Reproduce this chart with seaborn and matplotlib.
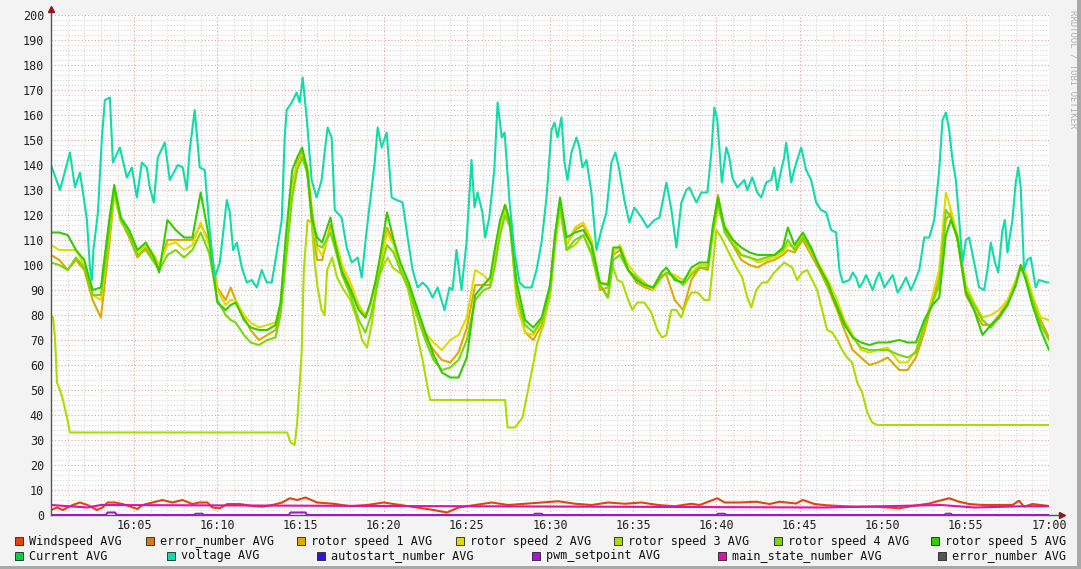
import numpy as np
import pandas as pd
import matplotlib
matplotlib.use("Agg")
import matplotlib.pyplot as plt
import seaborn as sns
from matplotlib.patches import Rectangle
from matplotlib.ticker import MultipleLocator, FixedLocator, FixedFormatter

sns.set_style("white")
plt.rcParams['font.family'] = ['DejaVu Sans Mono', 'DejaVu Sans']

# ---- data (minutes after 16:00) ----
volt_t = [0, 0.54, 1.14, 1.44, 1.74, 1.9, 2.16, 2.34, 2.46, 2.55, 2.82, 3.06, 3.24, 3.54, 3.72,
          4.14, 4.56, 4.86, 5.16, 5.46, 5.76, 5.94, 6.18, 6.42, 6.84, 7.14, 7.62, 7.92, 8.16, 8.34,
          8.64, 8.94, 9.24, 9.54, 9.84, 10.15, 10.57, 10.75, 10.95, 11.17, 11.47, 11.77, 12.07,
          12.37, 12.67, 12.97, 13.27, 13.57, 13.87, 14.05, 14.17, 14.47, 14.77, 14.95, 15.13, 15.37,
          15.67, 15.97, 16.27, 16.45, 16.63, 16.87, 17.06, 17.47, 17.78, 18.08, 18.44, 18.68, 18.98,
          19.28, 19.46, 19.64, 19.88, 20.18, 20.48, 20.78, 21.14, 21.44, 21.74, 22.04, 22.34, 22.64,
          22.94, 23.24, 23.66, 23.96, 24.14, 24.38, 24.68, 24.98, 25.28, 25.46, 25.64, 25.94, 26.1,
          26.35, 26.65, 26.85, 27.1, 27.27, 27.57, 27.87, 28.17, 28.47, 28.89, 29.19, 29.49, 29.79,
          30.09, 30.27, 30.45, 30.69, 30.87, 31.05, 31.29, 31.59, 31.77, 31.95, 32.19, 32.49, 32.79,
          33.09, 33.39, 33.69, 33.93, 34.17, 34.47, 34.77, 35.07, 35.5, 35.86, 36.28, 36.58, 37.0,
          37.3, 37.6, 37.9, 38.2, 38.38, 38.8, 39.1, 39.46, 39.7, 39.88, 40.06, 40.33, 40.6, 40.78,
          40.96, 41.26, 41.68, 41.86, 42.16, 42.46, 42.7, 43.0, 43.3, 43.48, 43.66, 43.9, 44.08,
          44.2, 44.5, 44.68, 44.86, 45.1, 45.4, 45.7, 46.0, 46.3, 46.6, 46.9, 47.2, 47.4, 47.6, 48.0,
          48.2, 48.4, 48.6, 48.8, 49.0, 49.2, 49.4, 49.6, 49.8, 50.1, 50.3, 50.6, 50.9, 51.1, 51.4,
          51.7, 51.9, 52.2, 52.5, 52.8, 53.1, 53.4, 53.6, 53.8, 54.0, 54.2, 54.4, 54.6, 54.8, 55.0,
          55.2, 55.5, 55.8, 56.1, 56.3, 56.5, 56.75, 56.95, 57.2, 57.35, 57.5, 57.8, 58.0, 58.15,
          58.3, 58.5, 58.7, 58.9, 59.2, 59.4, 59.9, 60]
volt_v = [140, 130, 145, 131, 137, 130, 118, 99, 94, 106, 121, 151, 166, 167, 141,
          147, 135, 139, 127, 141, 139, 131, 125, 143, 149, 134, 140, 139, 130, 146,
          162, 139, 138, 114, 95, 101, 126, 121, 106, 109, 99, 93, 94,
          91, 98, 93, 93, 105, 118, 151, 162, 165, 169, 165, 175, 159,
          134, 127, 134, 145, 155, 151, 122, 119, 107, 101, 103, 95, 114,
          131, 141, 155, 147, 153, 127, 126, 125, 111, 98, 91, 93, 91,
          87, 91, 82, 91, 90, 106, 90, 109, 142, 123, 129, 121, 111,
          119, 138, 165, 151, 153, 125, 105, 93, 91, 91, 98, 109, 127,
          154, 157, 151, 159, 141, 134, 145, 151, 147, 139, 142, 129, 106,
          114, 121, 141, 145, 138, 126, 117, 123, 119, 115, 118, 119, 133,
          122, 107, 125, 130, 131, 125, 129, 129, 145, 163, 158, 133, 147, 143,
          135, 131, 134, 130, 135, 129, 127, 133, 134, 139, 130, 138, 143,
          149, 133, 138, 142, 147, 138, 134, 125, 122, 121, 114, 113, 98, 93, 94,
          97, 95, 91, 93, 96, 93, 90, 94, 97, 91, 93, 96, 89, 91, 95,
          90, 93, 98, 111, 111, 118, 138, 158, 161, 154, 142, 134, 118, 101, 110,
          111, 101, 91, 90, 98, 109, 101, 97, 114, 118, 105, 118, 133, 139,
          131, 98, 102, 103, 91, 94, 93, 93]

grp_t = [0, 0.5, 1, 1.5, 2, 2.5, 3, 3.5, 3.8, 4.2, 4.7, 5.2, 5.7, 6.2, 6.5, 7, 7.5, 8, 8.5, 9,
         9.5, 10, 10.5, 10.8, 11.1, 11.6, 12, 12.5, 13, 13.5, 13.8, 14.1, 14.5, 14.8, 15.1, 15.4,
         15.7, 16, 16.3, 16.8, 17.1, 17.5, 18, 18.5, 18.9, 19.2, 19.5, 19.8, 20.2, 20.6, 21, 21.5,
         22, 22.5, 23, 23.5, 24, 24.5, 25, 25.5, 26, 26.4, 26.7, 27, 27.3, 27.6, 28, 28.5, 29,
         29.5, 30, 30.3, 30.6, 31, 31.5, 32, 32.5, 33, 33.5, 33.8, 34.2, 34.7, 35.2, 35.7, 36.2,
         36.7, 37, 37.5, 38, 38.5, 39, 39.5, 39.8, 40.1, 40.5, 41, 41.5, 42, 42.5, 43, 43.5, 44,
         44.3, 44.7, 45.2, 45.7, 46.2, 46.7, 47.2, 47.7, 48.2, 48.7, 49.2, 49.7, 50.3, 51, 51.5,
         52, 52.5, 53, 53.4, 53.8, 54.1, 54.5, 55, 55.5, 56, 56.5, 57, 57.5, 58, 58.3, 58.6, 59,
         59.5, 60]
rotor5 = [113, 113, 112, 106, 102, 90, 91, 118, 132, 119, 114, 106, 109, 103, 97, 118, 114, 111, 111, 129,
          111, 85, 82, 84, 85, 78, 75, 74, 74, 76, 85, 110, 138, 143, 147, 138,
          118, 111, 109, 119, 108, 97, 90, 82, 79, 85, 93, 104, 121, 110, 101, 93,
          83, 73, 64, 57, 55, 55, 63, 88, 92, 95, 107, 118, 124, 117, 93, 78, 75,
          79, 92, 112, 127, 111, 113, 114, 108, 93, 92, 107, 107, 98, 94, 92, 91,
          97, 99, 94, 93, 99, 101, 101, 116, 127, 115, 110, 107, 105, 104, 104, 104, 107,
          115, 108, 113, 107, 99, 93, 84, 76, 71, 69, 68, 69, 69, 70, 69,
          69, 78, 84, 87, 112, 118, 111, 89, 82, 72, 76, 79, 84, 92, 100, 94, 84,
          74, 66]
rotor2 = [108, 106, 106, 106, 100, 88, 86, 112, 128, 117, 113, 105, 108, 104, 100, 108, 109, 106, 108, 117,
          108, 90, 84, 86, 86, 80, 77, 75, 76, 77, 84, 106, 130, 140, 144, 140,
          122, 107, 104, 114, 110, 100, 93, 84, 80, 84, 92, 100, 113, 108, 100, 93,
          82, 73, 69, 66, 70, 72, 79, 98, 96, 93, 104, 115, 122, 117, 84, 73, 72,
          78, 90, 110, 124, 108, 115, 117, 110, 92, 93, 105, 108, 100, 96, 93, 90,
          95, 97, 96, 94, 97, 100, 100, 112, 122, 116, 110, 104, 103, 101, 102, 103, 105,
          108, 107, 112, 105, 100, 94, 87, 78, 72, 66, 65, 66, 67, 61, 61,
          66, 75, 88, 98, 129, 122, 112, 92, 85, 79, 80, 82, 86, 94, 100, 97, 88,
          79, 78]
rotor1 = [104, 102, 98, 102, 98, 86, 79, 108, 128, 118, 111, 103, 107, 102, 99, 110, 110, 110, 110, 116,
          110, 91, 86, 91, 86, 79, 74, 70, 72, 74, 82, 104, 132, 141, 145, 138,
          115, 102, 102, 116, 109, 98, 91, 84, 79, 84, 93, 102, 115, 109, 98, 90,
          80, 71, 66, 62, 61, 65, 75, 92, 92, 92, 104, 116, 124, 117, 89, 73, 70,
          76, 88, 108, 125, 108, 114, 116, 108, 90, 91, 104, 106, 98, 93, 91, 90,
          96, 96, 86, 82, 94, 99, 98, 115, 128, 114, 108, 102, 100, 99, 101, 102, 104,
          106, 105, 110, 104, 98, 91, 83, 74, 66, 63, 60, 61, 63, 58, 58,
          63, 73, 86, 95, 118, 121, 110, 88, 82, 76, 76, 80, 85, 93, 99, 95, 86,
          78, 71]
rotor4 = [101, 100, 98, 103, 99, 88, 88, 114, 130, 118, 112, 104, 106, 101, 98, 104, 106, 103, 106, 113,
          105, 86, 80, 78, 77, 72, 69, 68, 70, 71, 80, 100, 127, 138, 143, 137,
          120, 108, 107, 113, 106, 96, 88, 78, 73, 79, 88, 98, 108, 105, 98, 91,
          80, 70, 62, 58, 59, 62, 70, 86, 90, 91, 100, 112, 120, 115, 88, 76, 73,
          78, 90, 112, 126, 106, 110, 112, 105, 92, 87, 102, 104, 98, 95, 92, 91,
          95, 97, 95, 92, 96, 99, 99, 114, 125, 113, 108, 104, 103, 102, 103, 104, 106,
          110, 106, 111, 106, 99, 92, 85, 77, 71, 67, 66, 66, 66, 64, 63,
          65, 76, 85, 92, 122, 119, 110, 90, 84, 78, 75, 79, 84, 92, 99, 95, 86,
          76, 70]

rotor3_t = [0, 0.12, 0.24, 0.36, 0.54, 0.72, 0.96, 1.14, 14.2, 14.4, 14.65, 14.8, 15.07, 15.2,
            15.43, 15.67, 15.85, 16.03, 16.27, 16.45, 16.6, 16.9, 17.2, 17.6, 18.0, 18.4, 18.7,
            19.0, 19.3, 19.6, 20.0, 20.24, 20.54, 21.14, 21.44, 21.74, 22.04, 22.34, 22.64, 22.8,
            27.3, 27.45, 27.9, 28.35, 28.65, 28.95, 29.24, 29.6, 30.0, 30.3, 30.6, 31.0, 31.5,
            32.0, 32.5, 32.85, 33.45, 33.75, 34.05, 34.35, 34.65, 34.95, 35.25, 35.67, 36.09,
            36.45, 36.75, 37.0, 37.29, 37.59, 37.89, 38.2, 38.5, 38.86, 39.28, 39.58, 40.0, 40.3,
            40.9, 41.2, 41.56, 41.86, 42.1, 42.4, 42.76, 43.06, 43.48, 43.78, 44.08, 44.56, 44.86,
            45.16, 45.46, 45.76, 46.06, 46.36, 46.66, 46.96, 47.26, 47.56, 47.86, 48.16, 48.47,
            48.77, 49.07, 49.37, 49.67, 60]
rotor3_v = [80, 79, 71, 53, 50, 46, 39, 33, 33, 29, 28, 37, 65, 98,
            118, 117, 101, 91, 82, 80, 98, 103, 95, 90, 86, 78, 70,
            67, 77, 93, 100, 103, 99, 96, 91, 82, 71, 62, 51, 46,
            46, 35, 35, 39, 49, 59, 69, 76, 88, 108, 122, 106, 108,
            112, 104, 94, 87, 100, 94, 93, 87, 82, 85, 85, 81,
            74, 71, 72, 82, 82, 79, 85, 89, 89, 86, 86, 114, 111,
            103, 99, 95, 87, 83, 90, 93, 93, 97, 99, 101, 99, 94,
            97, 98, 94, 90, 82, 74, 73, 70, 66, 63, 61, 53,
            49, 41, 37, 36, 36]

wind_t = [0, 0.36, 0.72, 1.3, 1.74, 2.2, 2.76, 3.1, 3.4, 3.85, 4.3, 5.2, 5.5, 6.1, 6.7, 7.3, 7.9,
          8.5, 8.9, 9.4, 9.7, 10.15, 10.6, 11.35, 12.1, 12.7, 13.3, 13.9, 14.35, 14.8, 15.3, 16,
          17, 18, 19, 20, 21, 22, 23, 23.8, 24.5, 25.5, 26.5, 27.5, 28.5, 29.5, 30.5, 31.5, 32.5,
          33.5, 34.5, 35.5, 36.5, 37.5, 38.5, 39.0, 40.06, 40.5, 41.4, 42.4, 43.2, 43.8, 44.8,
          45.2, 45.9, 46.6, 47.4, 48.4, 49.6, 51.0, 51.8, 52.8, 53.4, 54.0, 54.6, 55.2, 56.0,
          57.0, 57.8, 58.2, 58.5, 59.0, 60]
wind_v = [2, 3, 2, 4, 5, 4, 2, 3, 5, 5, 4.4, 2.4, 4, 5, 6, 5, 6,
          4.4, 5, 5, 3, 2.7, 4.4, 4.4, 3.6, 3.3, 4, 5, 6.7, 6, 7, 5,
          4.5, 3.5, 4, 5, 4, 3, 2, 1, 3, 4, 5, 4, 4.5, 5, 5.5, 4.5, 4,
          5, 4.5, 5, 4, 3.5, 4.5, 4, 6.7, 5, 5, 5.3, 4.4, 5.3, 4.6,
          6, 4.4, 3.9, 3.6, 3.3, 3.3, 2.7, 3.6, 4.6, 5.7, 6.7, 5.3, 4.4, 4,
          4, 4, 5.7, 3.3, 4.4, 3.6]

state_t = [0, 2.2, 3.0, 46.5, 53.5, 55.5, 58.5, 60]
state_v = [4, 3, 4, 3, 4, 3, 3.5, 3.5]

pwm_t = [0, 3.3, 3.4, 3.85, 3.95, 8.6, 8.7, 9.1, 9.2, 14.3, 14.4, 15.3, 15.4, 29.0, 29.1,
         29.5, 29.6, 40.0, 40.1, 40.5, 40.6, 53.7, 53.8, 54.1, 54.2, 60]
pwm_v = [0, 0, 1, 1, 0, 0, 0.5, 0.5, 0, 0, 1, 1, 0, 0, 0.5,
         0.5, 0, 0, 0.5, 0.5, 0, 0, 0.5, 0.5, 0, 0]

x_tick_pos = [5, 10, 15, 20, 25, 30, 35, 40, 45, 50, 55, 60]
x_tick_lab = ["16:05", "16:10", "16:15", "16:20", "16:25", "16:30", "16:35",
              "16:40", "16:45", "16:50", "16:55", "17:00"]

legend_row1 = ["Windspeed AVG", "error_number AVG", "rotor speed 1 AVG", "rotor speed 2 AVG",
               "rotor speed 3 AVG", "rotor speed 4 AVG", "rotor speed 5 AVG"]
legend_row2 = ["Current AVG", "voltage AVG", "autostart_number AVG", "pwm_setpoint AVG",
               "main_state_number AVG", "error_number AVG"]
colors_row1 = ["#e0440e", "#d87a10", "#e0a800", "#dddd00", "#aadd00", "#77d80c", "#33cc00"]
colors_row2 = ["#0ecc44", "#10dcaa", "#3311dd", "#aa11dd", "#e011aa", "#555555"]

# ---- figure ----
W, H = 1081, 569
fig = plt.figure(figsize=(W / 100, H / 100), dpi=100, facecolor="#f3f3f3")
ax = fig.add_axes([51 / W, 54 / H, 998 / W, 500 / H])
ax.set_facecolor("white")

series = [
    (wind_t, wind_v, colors_row1[0]),
    (grp_t, rotor1, colors_row1[2]),
    (grp_t, rotor2, colors_row1[3]),
    (rotor3_t, rotor3_v, colors_row1[4]),
    (grp_t, rotor4, colors_row1[5]),
    (grp_t, rotor5, colors_row1[6]),
    (volt_t, volt_v, colors_row2[1]),
    (pwm_t, pwm_v, colors_row2[3]),
    (state_t, state_v, colors_row2[4]),
]
for t, v, c in series:
    df = pd.DataFrame({"t": t, "v": v})
    sns.lineplot(data=df, x="t", y="v", color=c, linewidth=1.5, ax=ax,
                 estimator=None, sort=False)

ax.set_xlim(0, 60)
ax.set_ylim(0, 200)
ax.set_xlabel("")
ax.set_ylabel("")

ax.yaxis.set_major_locator(MultipleLocator(10))
ax.yaxis.set_minor_locator(MultipleLocator(2))
ax.xaxis.set_major_locator(FixedLocator(x_tick_pos))
ax.xaxis.set_major_formatter(FixedFormatter(x_tick_lab))
ax.xaxis.set_minor_locator(MultipleLocator(1))

ax.grid(which="minor", color="#cfcfcf", linestyle=(0, (1, 2)), linewidth=0.7)
ax.grid(which="major", color="#e4a0a0", linestyle=(0, (1, 2)), linewidth=0.8)
ax.set_axisbelow(True)

ax.tick_params(axis="both", which="both", length=0, labelsize=8.5, colors="#222222")
ax.tick_params(axis="y", pad=5)
ax.tick_params(axis="x", pad=3)

for s in ["top", "right"]:
    ax.spines[s].set_visible(False)
for s in ["left", "bottom"]:
    ax.spines[s].set_color("#555555")
    ax.spines[s].set_linewidth(1.0)
    ax.spines[s].set_zorder(5)

# axis arrows
ax.plot([1, 1.013], [0, 0], transform=ax.transAxes, color="#555555", lw=1.0, clip_on=False)
ax.plot([1.013], [0], transform=ax.transAxes, marker=">", color="#8b1a1a", markersize=5,
        clip_on=False)
ax.plot([0, 0], [1, 1.012], transform=ax.transAxes, color="#555555", lw=1.0, clip_on=False)
ax.plot([0], [1.012], transform=ax.transAxes, marker="^", color="#8b1a1a", markersize=5,
        clip_on=False)

# watermark
fig.text(1073 / W, 1 - 10 / H, "RRDTOOL / TOBI OETIKER", rotation=270, fontsize=6.5,
         color="#b0b0b0", ha="center", va="top")

# legend
def legend_row(labels, colors, boxes, y):
    for lab, col, bx in zip(labels, colors, boxes):
        fig.patches.append(Rectangle(((bx) / W, 1 - (y + 4) / H), 8 / W, 8 / H,
                                     transform=fig.transFigure, facecolor=col,
                                     edgecolor="#222222", linewidth=0.6))
        fig.text((bx + 14) / W, 1 - y / H, lab, fontsize=8.5, color="#111111",
                 ha="left", va="center")

legend_row(legend_row1, colors_row1, [15, 146, 297, 456, 614, 774, 931], 541)
legend_row(legend_row2, colors_row2, [15, 167, 317, 532, 718, 938], 556)

# frame shading
fig.patches.append(Rectangle((1077 / W, 0), 4 / W, 1, transform=fig.transFigure,
                             facecolor="#a8a8a8", edgecolor="none"))
fig.patches.append(Rectangle((0, 0), 1, 3 / H, transform=fig.transFigure,
                             facecolor="#a8a8a8", edgecolor="none"))

fig.savefig("out.png", dpi=100, facecolor=fig.get_facecolor())
